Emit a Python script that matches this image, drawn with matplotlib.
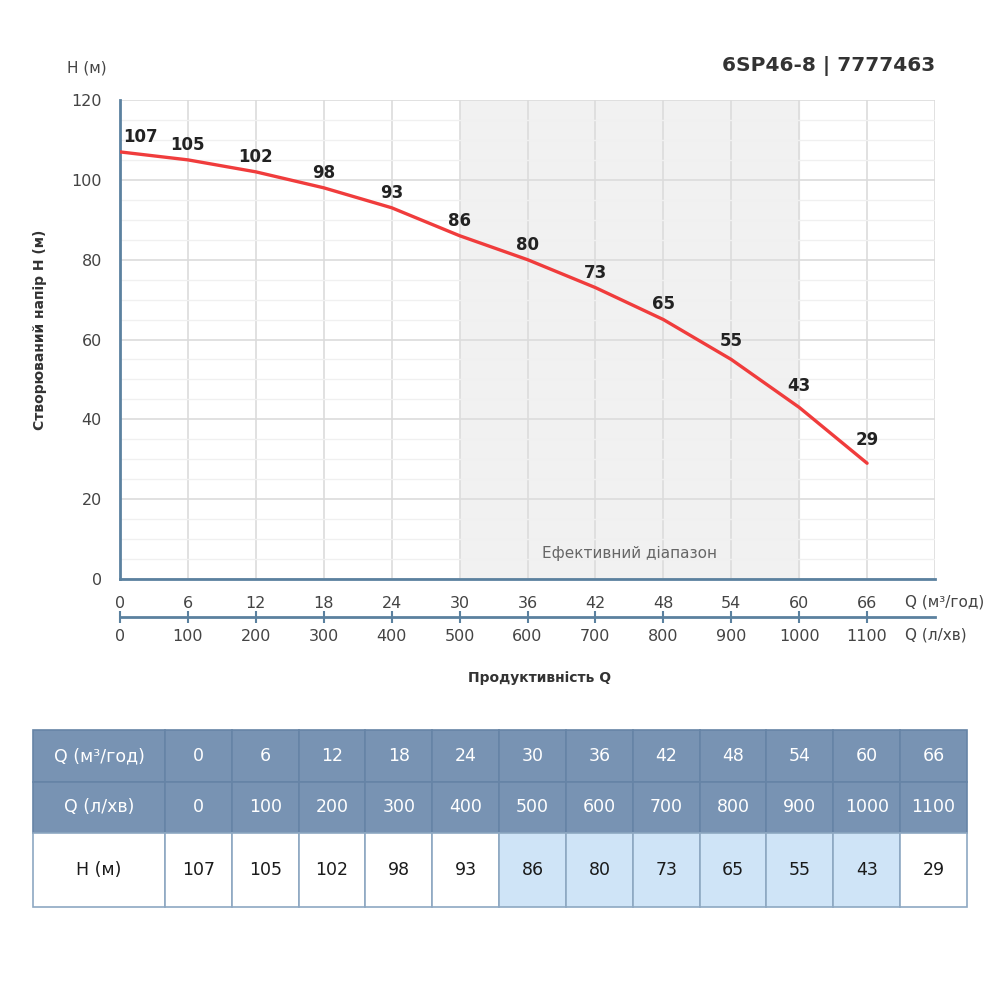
import numpy as np
import matplotlib
matplotlib.use("Agg")
import matplotlib.pyplot as plt

plt.rcParams['font.family'] = ['DejaVu Sans']

# data
q_m3h = [0, 6, 12, 18, 24, 30, 36, 42, 48, 54, 60, 66]
q_lmin = [0, 100, 200, 300, 400, 500, 600, 700, 800, 900, 1000, 1100]
head_m = [107, 105, 102, 98, 93, 86, 80, 73, 65, 55, 43, 29]
eff_range = (30, 60)
title = "6SP46-8 | 7777463"

AXIS_C = '#5b819f'
GRID_MAJ = '#dcdcdc'
GRID_MIN = '#f0f0f0'
TXT = '#444444'
LINE_C = '#f03c3c'
HDR_C = '#7893b3'
HILITE = '#cfe4f7'

fig = plt.figure(figsize=(10, 10), dpi=100)
ax = fig.add_axes([0.12, 0.421, 0.815, 0.479])

ax.set_xlim(0, 72)
ax.set_ylim(0, 120)
ax.axvspan(*eff_range, color='#f1f1f1', zorder=0)
ax.text(sum(eff_range) / 2, 6.5, "Ефективний діапазон", ha='center', va='center',
        fontsize=11, color='#666666', zorder=2)

ax.set_xticks(np.arange(0, 73, 6))
ax.set_xticklabels([str(v) for v in q_m3h] + [''])
ax.set_yticks(np.arange(0, 121, 20))
ax.set_yticks(np.arange(0, 121, 5), minor=True)
ax.grid(True, which='major', color=GRID_MAJ, lw=1.2, zorder=1)
ax.grid(True, which='minor', axis='y', color=GRID_MIN, lw=1.0, zorder=1)
ax.set_axisbelow(True)
ax.tick_params(axis='both', which='both', length=0, labelsize=11.5, labelcolor=TXT)
ax.tick_params(axis='x', pad=12)
ax.tick_params(axis='y', pad=13)
for s in ['top', 'right']:
    ax.spines[s].set_visible(False)
for s in ['left', 'bottom']:
    ax.spines[s].set_color(AXIS_C)
    ax.spines[s].set_linewidth(2)

ax.plot(q_m3h, head_m, color=LINE_C, lw=2.4, solid_capstyle='round', zorder=3)
# labels sit a little higher where the curve gets steep
px_per_q = 0.815 * 1000 / 72
px_per_h = 0.479 * 1000 / 120
for i, (q, h) in enumerate(zip(q_m3h, head_m)):
    j0, j1 = max(i - 1, 0), min(i + 1, len(q_m3h) - 1)
    slope = abs(head_m[j1] - head_m[j0]) / (q_m3h[j1] - q_m3h[j0]) * px_per_h / px_per_q
    dy_px = 10 + 25 * max(0.0, slope - 0.5)
    ax.annotate(str(h), (q, h), xytext=(2 if i == 0 else 0, dy_px * 0.72),
                textcoords='offset points', ha='left' if i == 0 else 'center', va='baseline',
                fontsize=12, fontweight='bold', color='#222222', zorder=4)

# second flow scale (l/min)
sec = ax.secondary_xaxis(-0.079, functions=(lambda q: q * 1000 / 60, lambda l: l * 60 / 1000))
sec.set_xticks(q_lmin)
sec.spines['bottom'].set_color(AXIS_C)
sec.spines['bottom'].set_linewidth(2)
sec.tick_params(axis='x', direction='inout', length=9, width=1.5, color=AXIS_C,
                labelsize=11.5, labelcolor=TXT, pad=4)

fig.text(0.905, 0.398, "Q (м³/год)", ha='left', va='center', fontsize=11, color=TXT)
fig.text(0.905, 0.365, "Q (л/хв)", ha='left', va='center', fontsize=11, color=TXT)
fig.text(0.54, 0.322, "Продуктивність Q", ha='center', va='center', fontsize=10,
         fontweight='bold', color='#333333')
fig.text(0.040, 0.67, "Створюваний напір Н (м)", ha='center', va='center', rotation=90,
         fontsize=10, fontweight='bold', color='#333333')
fig.text(0.087, 0.932, "Н (м)", ha='center', va='center', fontsize=11, color=TXT)
fig.text(0.935, 0.934, title, ha='right', va='center', fontsize=14.5, fontweight='bold',
         color='#333333')

# data table
tax = fig.add_axes([0.033, 0.093, 0.934, 0.177])
tax.axis('off')
rows = [["Q (м³/год)"] + [str(v) for v in q_m3h],
        ["Q (л/хв)"] + [str(v) for v in q_lmin],
        ["Н (м)"] + [str(v) for v in head_m]]
tbl = tax.table(cellText=rows, cellLoc='center', bbox=[0, 0, 1, 1])
tbl.auto_set_font_size(False)
first_w = 0.1413
other_w = (1 - first_w) / 12
row_h = [52, 51, 74]
for (r, c), cell in tbl.get_celld().items():
    cell.set_width(first_w if c == 0 else other_w)
    cell.set_height(row_h[r] / sum(row_h))
    txt = cell.get_text()
    if r < 2:
        cell.set_facecolor(HDR_C)
        cell.set_edgecolor('#6684a6')
        txt.set_color('white')
        txt.set_fontsize(12.5)
    else:
        q = q_m3h[c - 1] if c > 0 else None
        in_range = q is not None and eff_range[0] <= q <= eff_range[1]
        cell.set_facecolor(HILITE if in_range else 'white')
        cell.set_edgecolor('#8ea8c2')
        txt.set_color('#1a1a1a')
        txt.set_fontsize(12.5)
    cell.set_linewidth(1.2)

fig.savefig("out.png", dpi=100, facecolor='white')
